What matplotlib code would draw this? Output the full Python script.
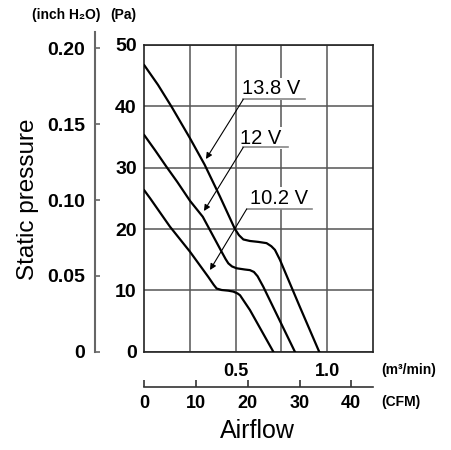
import matplotlib
matplotlib.use("Agg")
import matplotlib.pyplot as plt

# ---- data (airflow in m3/min, static pressure in Pa) ----
q_138 = [0.0, 0.075, 0.15, 0.25, 0.33, 0.414, 0.496, 0.518, 0.542, 0.578, 0.624, 0.669, 0.695, 0.715, 0.742, 0.85, 0.957]
p_138 = [46.7, 43.5, 39.9, 34.8, 30.5, 25.3, 20.0, 19.0, 18.3, 18.05, 17.9, 17.7, 17.2, 16.6, 15.0, 7.4, 0.0]

q_120 = [0.0, 0.06, 0.12, 0.18, 0.25, 0.32, 0.423, 0.445, 0.46, 0.48, 0.505, 0.55, 0.578, 0.6, 0.62, 0.651, 0.824]
p_120 = [35.3, 32.8, 30.2, 27.7, 24.6, 22.0, 16.3, 15.1, 14.4, 13.9, 13.6, 13.4, 13.3, 13.0, 12.3, 10.6, 0.0]

q_102 = [0.0, 0.032, 0.14, 0.25, 0.35, 0.38, 0.396, 0.423, 0.46, 0.487, 0.51, 0.524, 0.542, 0.578, 0.706]
p_102 = [26.3, 25.0, 20.4, 16.3, 12.2, 10.9, 10.3, 10.06, 9.95, 9.8, 9.5, 9.2, 8.4, 6.8, 0.0]

curve_labels = ["13.8 V", "12 V", "10.2 V"]

pa_ticks = [0, 10, 20, 30, 40, 50]
inch_ticks = [0, 0.05, 0.10, 0.15, 0.20]
inch_labels = ["0", "0.05", "0.10", "0.15", "0.20"]
q_ticks = [0.25, 0.5, 0.75, 1.0]
q_labels = ["", "0.5", "", "1.0"]
cfm_ticks = [0, 10, 20, 30, 40]

PA_PER_INCH = 247.2
CFM_PER_M3MIN = 35.3147

W, H = 451, 450
SANS = ["Liberation Sans", "DejaVu Sans"]
NUM = dict(family=SANS, weight="bold")

fig = plt.figure(figsize=(W / 100, H / 100), dpi=100)

# main plot box, pixel coords
x0, x1, y_top, y_bot = 144.3, 372.7, 45.0, 351.7
ax = fig.add_axes([x0 / W, 1 - y_bot / H, (x1 - x0) / W, (y_bot - y_top) / H])
ax.set_xlim(0, 1.25)
ax.set_ylim(0, 50)


def px(x, y):
    # figure pixel -> main axes data
    return (x - x0) / (x1 - x0) * 1.25, (y_bot - y) / (y_bot - y_top) * 50


for q, p in [(q_138, p_138), (q_120, p_120), (q_102, p_102)]:
    ax.plot(q, p, color="black", lw=1.6, solid_joinstyle="round", zorder=3)

ax.set_yticks(pa_ticks)
ax.set_yticklabels([str(t) for t in pa_ticks], fontsize=14, **NUM)
ax.set_xticks(q_ticks)
ax.set_xticklabels(q_labels, fontsize=13, **NUM)
ax.tick_params(axis="y", length=0, pad=5.5)
ax.tick_params(axis="x", length=0, pad=8)
ax.grid(True, color="#555555", lw=1.1)
ax.set_axisbelow(True)
for s in ax.spines.values():
    s.set_color("#222222")
    s.set_linewidth(1.2)

# inch H2O axis
yi_top = 31.7
ax_in = fig.add_axes([95 / W, 1 - y_bot / H, 0.0005, (y_bot - yi_top) / H])
ax_in.set_ylim(0, 50 / PA_PER_INCH * (y_bot - yi_top) / (y_bot - y_top))
ax_in.set_xticks([])
ax_in.set_yticks(inch_ticks)
ax_in.set_yticklabels(inch_labels, fontsize=14, **NUM)
ax_in.tick_params(axis="y", direction="in", length=3.5, width=1.2, color="#666666", pad=7)
for k in ["top", "right", "bottom"]:
    ax_in.spines[k].set_visible(False)
ax_in.spines["left"].set_color("#666666")
ax_in.spines["left"].set_linewidth(1.5)
ax_in.patch.set_visible(False)

# CFM axis
y_cfm = 386.7
ax_c = fig.add_axes([x0 / W, 1 - y_cfm / H, (x1 - x0) / W, 0.0005])
ax_c.set_xlim(0, 1.25 * CFM_PER_M3MIN)
ax_c.set_yticks([])
ax_c.set_xticks(cfm_ticks)
ax_c.set_xticklabels([str(t) for t in cfm_ticks], fontsize=13, **NUM)
ax_c.tick_params(axis="x", direction="in", length=5, width=1.2, color="#333333", pad=6)
for k in ["top", "right", "left"]:
    ax_c.spines[k].set_visible(False)
ax_c.spines["bottom"].set_color("#333333")
ax_c.spines["bottom"].set_linewidth(1.2)
ax_c.patch.set_visible(False)

# curve labels: (text centre, underline y, underline x range, arrow tip) in pixels
label_geo = [
    ((271, 89), 99.3, (243.3, 305.0), (206.0, 159.0)),
    ((261, 138), 147.3, (243.3, 288.3), (204.0, 211.0)),
    ((279, 198), 209.0, (246.7, 311.7), (210.0, 270.0)),
]
for txt, (tc, uy, (ux1, ux2), tip) in zip(curve_labels, label_geo):
    ax.text(*px(*tc), txt, ha="center", va="center", fontsize=14.5, family=SANS,
            bbox=dict(boxstyle="square,pad=0.05", fc="white", ec="none"), zorder=4)
    ax.plot(*zip(px(ux1, uy), px(ux2, uy)), color="#888888", lw=1.2, zorder=5)
    ax.annotate("", xy=px(*tip), xytext=px(ux1, uy),
                arrowprops=dict(arrowstyle="-|>", color="black", lw=0.8,
                                mutation_scale=9, shrinkA=0, shrinkB=0), zorder=5)

# axis captions
def ftext(x, y, s, **kw):
    fig.text(x / W, 1 - y / H, s, **kw)

ftext(66, 15, "(inch H\u2082O)", ha="center", va="center", fontsize=10, weight="bold", family=SANS)
ftext(123.5, 15, "(Pa)", ha="center", va="center", fontsize=10, weight="bold", family=SANS)
ftext(28, 199, "Static pressure", ha="center", va="center", rotation=90, fontsize=17.5, family=SANS)
ftext(257, 431, "Airflow", ha="center", va="center", fontsize=18, family=SANS)
ftext(381, 370, "(m\u00b3/min)", ha="left", va="center", fontsize=10, weight="bold", family=SANS)
ftext(381, 402, "(CFM)", ha="left", va="center", fontsize=10, weight="bold", family=SANS)

fig.savefig("out.png", dpi=100)
